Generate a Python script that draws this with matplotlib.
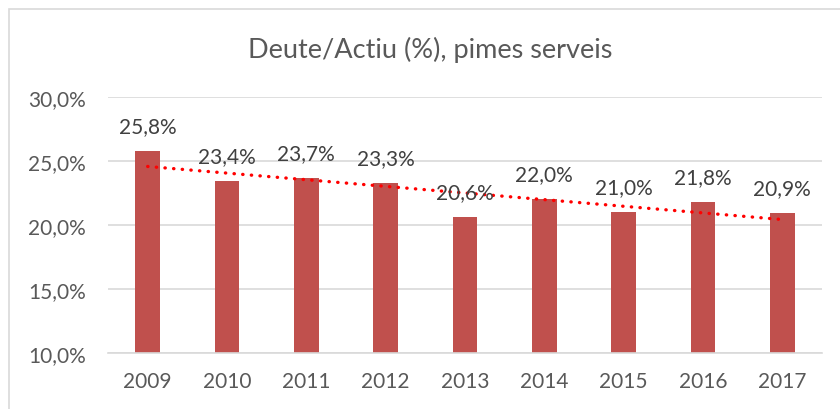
import numpy as np
import matplotlib
matplotlib.use("Agg")
import matplotlib.pyplot as plt
from matplotlib.patches import Rectangle

years = ["2009", "2010", "2011", "2012", "2013", "2014", "2015", "2016", "2017"]
deute_actiu = [25.8, 23.4, 23.7, 23.3, 20.6, 22.0, 21.0, 21.8, 20.9]
y_ticks = [10, 15, 20, 25, 30]

def pct(v):
    return "{:.1f}%".format(v).replace(".", ",")

plt.rcParams['font.family'] = ['Lato', 'DejaVu Sans']
text_col = "#595959"
grid_col = "#D9D9D9"
bar_col = "#C0504D"

fig = plt.figure(figsize=(8.4, 4.1), dpi=100)
fig.patches.append(Rectangle((9 / 840, -0.05), 1.1, 1 - 10 / 410 + 0.05,
                             transform=fig.transFigure, fill=False,
                             edgecolor=grid_col, linewidth=1.2, zorder=0))

ax = fig.add_axes([108 / 840, 1 - 354 / 410, 714 / 840, 256 / 410])
x = np.arange(len(years))
ax.bar(x, deute_actiu, width=0.315, color=bar_col, zorder=2)

# linear trend line, like the excel one
coef = np.polyfit(x, deute_actiu, 1)
ax.plot(x, np.polyval(coef, x), color="#FF0000", linewidth=2.4,
        linestyle=(0, (0.1, 2.5)), dash_capstyle='round', zorder=3)

for xi, v in zip(x, deute_actiu):
    ax.annotate(pct(v), (xi, v), xytext=(0, 18), textcoords="offset points",
                ha='center', va='center', fontsize=15, color="#404040", zorder=4)

ax.set_xlim(-0.5, len(years) - 0.5)
ax.set_ylim(10, 30)
ax.set_xticks(x)
ax.set_xticklabels(years)
ax.set_yticks(y_ticks)
ax.set_yticklabels([pct(t) for t in y_ticks])
ax.tick_params(axis='both', length=0, labelsize=15, labelcolor=text_col)
ax.tick_params(axis='x', pad=13)
ax.tick_params(axis='y', pad=16)
ax.grid(axis='y', color=grid_col, linewidth=1.2, zorder=0)
ax.set_axisbelow(True)
for s in ["top", "right", "left"]:
    ax.spines[s].set_visible(False)
ax.spines["bottom"].set_color(grid_col)
ax.spines["bottom"].set_linewidth(1.2)

fig.text(430 / 840, 1 - 50 / 410, "Deute/Actiu (%), pimes serveis",
         ha='center', va='center', fontsize=19.5, color=text_col)

fig.savefig("out.png", dpi=100)
